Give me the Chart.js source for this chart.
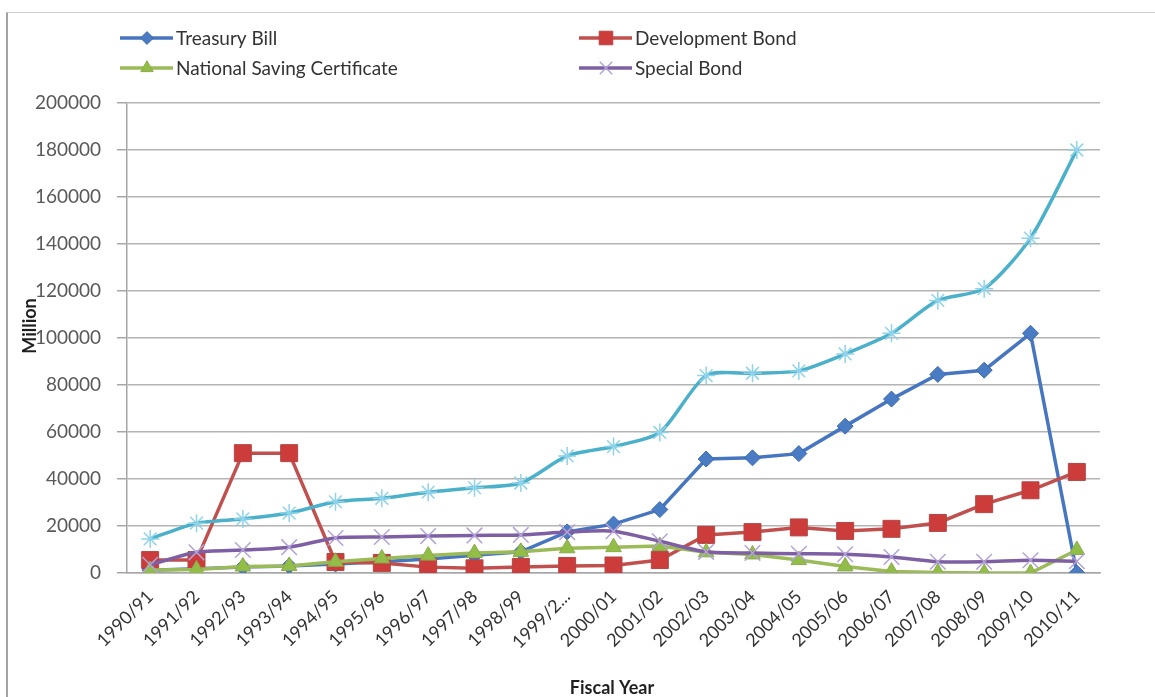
<!DOCTYPE html>
<html>
<head>
<meta charset="utf-8">
<script src="https://cdn.jsdelivr.net/npm/chart.js@4/dist/chart.umd.min.js"></script>
<style>
  html, body { margin: 0; padding: 0; background: #ffffff; }
  #wrap { position: relative; width: 1155px; height: 697px; }
  #c { display: block; }
  #frame {
    position: absolute; left: 6px; top: 12px; right: 0; bottom: 0;
    border-left: 2px solid #a3a3a3; border-top: 1px solid #cfcfcf;
    pointer-events: none;
  }
</style>
</head>
<body>
<div id="wrap">
  <canvas id="c" width="1155" height="697"></canvas>
  <div id="frame"></div>
</div>
<script>
// Domestic debt outstanding by instrument, Rs. million
const fiscalYears = ['1990/91','1991/92','1992/93','1993/94','1994/95','1995/96','1996/97',
  '1997/98','1998/99','1999/2...','2000/01','2001/02','2002/03','2003/04','2004/05','2005/06',
  '2006/07','2007/08','2008/09','2009/10','2010/11'];

const treasuryBill = [1200, 1800, 2500, 3000, 3800, 4800, 6000, 7500, 9000, 17500, 20800,
  27000, 48500, 49000, 50800, 62500, 74000, 84500, 86300, 102000, 0];

const developmentBond = [5500, 5500, 51000, 51000, 4700, 4300, 2500, 2000, 2600, 3000, 3200,
  5500, 16200, 17400, 19400, 17900, 18800, 21300, 29300, 35200, 43000];

const nationalSavingCertificate = [1300, 1500, 2800, 3000, 4800, 6200, 7400, 8500, 9000, 10500,
  11000, 11500, 8800, 7900, 5500, 2800, 600, 200, 0, 0, 9800];

const specialBond = [3500, 8800, 9800, 11000, 14900, 15300, 15700, 16000, 16200, 17400, 17800,
  13500, 9000, 8500, 8200, 8000, 6800, 4800, 4800, 5400, 5000];

const totalDebt = [14500, 21200, 23000, 25500, 30300, 31800, 34400, 36300, 38300, 49800, 53800,
  59800, 84000, 85000, 86000, 93200, 102000, 116000, 121000, 142500, 180000];

const yTicks = { min: 0, max: 200000, step: 20000 };

// Legend drawn as a two-column grid above the plot
const gridLegend = {
  id: 'gridLegend',
  afterDraw(chart) {
    const ctx = chart.ctx;
    const slots = [[120, 38], [579, 38], [120, 68], [579, 68]];
    chart.data.datasets.forEach((ds, i) => {
      if (!ds.inLegend) return;
      const [x, y] = slots[i];
      ctx.save();
      ctx.strokeStyle = ds.borderColor;
      ctx.lineWidth = ds.borderWidth;
      ctx.beginPath();
      ctx.moveTo(x, y);
      ctx.lineTo(x + 53, y);
      ctx.stroke();
      ctx.fillStyle = ds.pointBackgroundColor;
      ctx.strokeStyle = ds.pointBorderColor;
      ctx.lineWidth = ds.pointBorderWidth;
      Chart.helpers.drawPoint(ctx, {
        pointStyle: ds.pointStyle,
        radius: ds.pointRadius * 0.8,
        rotation: 0,
        borderWidth: ds.pointBorderWidth
      }, x + 27, y);
      ctx.fillStyle = '#333333';
      ctx.font = '19px Lato';
      ctx.textBaseline = 'middle';
      ctx.textAlign = 'left';
      ctx.fillText(ds.label, x + 56, y + 1);
      ctx.restore();
    });
  }
};

// Axis titles
const axisTitles = {
  id: 'axisTitles',
  afterDraw(chart) {
    const ctx = chart.ctx;
    ctx.save();
    ctx.fillStyle = '#1f1f1f';
    ctx.font = 'bold 18px Lato';
    ctx.textAlign = 'center';
    ctx.textBaseline = 'middle';
    ctx.fillText('Fiscal Year', 612, 688);
    ctx.translate(30, 326);
    ctx.rotate(-Math.PI / 2);
    ctx.fillText('Million', 0, 0);
    ctx.restore();
  }
};

function series(label, data, color, style, radius, fill, stroke, bw, order, smooth, inLegend) {
  return {
    label, data, order, inLegend,
    borderColor: color,
    backgroundColor: color,
    borderWidth: 3.5,
    pointStyle: style,
    pointRadius: radius,
    pointHoverRadius: radius,
    pointBackgroundColor: fill,
    pointBorderColor: stroke,
    pointBorderWidth: bw,
    tension: smooth ? 0.25 : 0,
    fill: false
  };
}

new Chart(document.getElementById('c'), {
  type: 'line',
  data: {
    labels: fiscalYears,
    datasets: [
      series('Treasury Bill', treasuryBill, '#4776c0', 'rectRot', 8, '#4a7cc4', '#3d68aa', 1, 4, false, true),
      series('Development Bond', developmentBond, '#c0504d', 'rect', 12, '#cc3c3a', '#b44644', 1, 3, false, true),
      series('National Saving Certificate', nationalSavingCertificate, '#9bbb59', 'triangle', 9, '#92bd47', '#8aab4e', 1, 2, false, true),
      series('Special Bond', specialBond, '#7e5fa3', 'crossRot', 11, '#b3a2d6', '#b3a2d6', 1.5, 1, true, true),
      series('Total', totalDebt, '#4bb0c9', 'star', 9, '#8fd3ea', '#8fd3ea', 1.5, 0, true, false)
    ]
  },
  options: {
    responsive: false,
    animation: false,
    layout: { padding: { top: 103, right: 55, left: 0, bottom: 0 } },
    plugins: {
      legend: { display: false },
      tooltip: { enabled: false }
    },
    scales: {
      x: {
        type: 'category',
        offset: true,
        grid: { display: false },
        border: { display: true, color: '#a6a6a6', width: 1.5 },
        ticks: {
          autoSkip: false,
          minRotation: 45,
          maxRotation: 45,
          padding: 5,
          color: '#333333',
          font: { family: 'Lato', size: 18 }
        },
        afterFit(scale) { scale.height = 124; }
      },
      y: {
        min: yTicks.min,
        max: yTicks.max,
        grid: {
          color: '#b4b4b4',
          lineWidth: 1.5,
          drawTicks: true,
          tickLength: 10,
          tickColor: '#a6a6a6'
        },
        border: { display: true, color: '#a6a6a6', width: 1.5 },
        ticks: {
          stepSize: yTicks.step,
          padding: 16,
          color: '#595959',
          font: { family: 'Lato', size: 19 },
          callback: (v) => String(v)
        },
        afterFit(scale) { scale.width = 127; }
      }
    }
  },
  plugins: [gridLegend, axisTitles]
});
</script>
</body>
</html>
